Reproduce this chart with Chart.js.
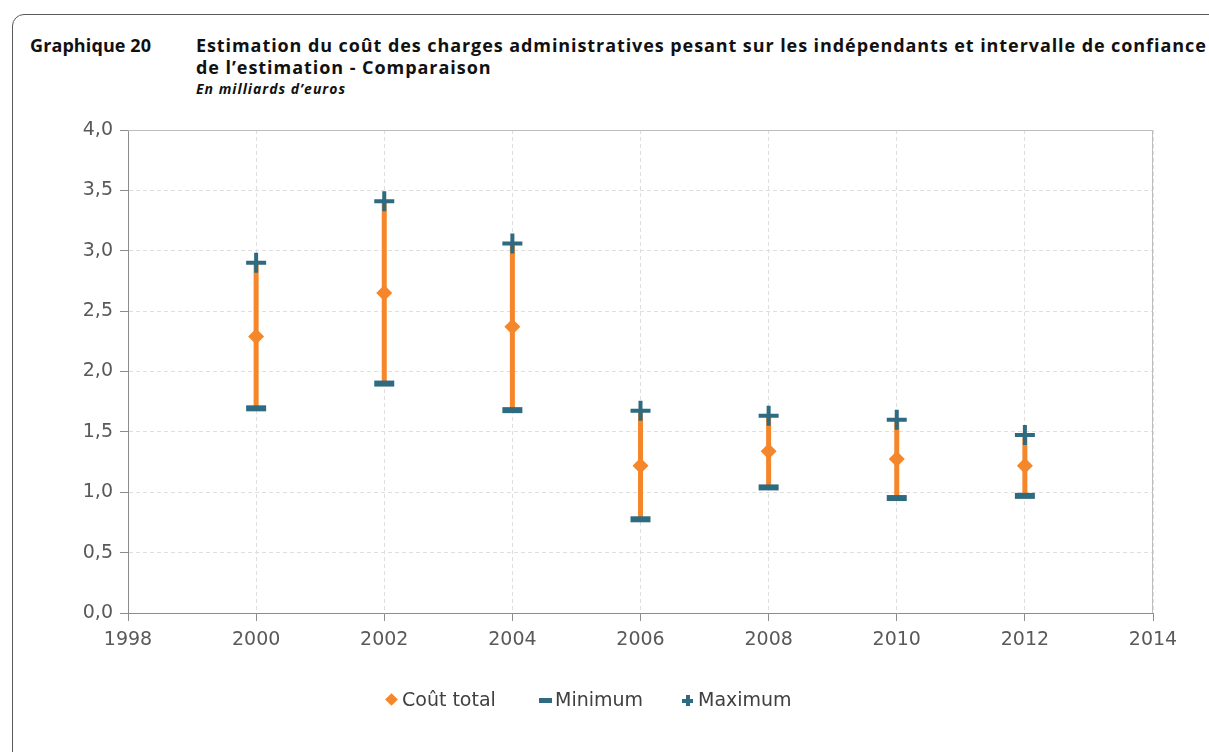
<!DOCTYPE html>
<html>
<head>
<meta charset="utf-8">
<script src="https://cdn.jsdelivr.net/npm/chart.js@4.4.1/dist/chart.umd.min.js"></script>
<style>
  html, body { margin: 0; padding: 0; background: #fff; width: 1209px; height: 752px; overflow: hidden; }
  #frame { position: absolute; left: 12px; top: 14px; width: 1230px; height: 780px;
           border: 1px solid #5a5a5a; border-radius: 12px; }
  .t { position: absolute; font-family: "Open Sans", sans-serif; font-weight: bold; color: #111; white-space: nowrap; }
  #num { left: 30px; top: 33px; font-size: 18px; letter-spacing: 0.1px; }
  #l1 { left: 196px; top: 33px; font-size: 18px; letter-spacing: 0.92px; }
  #l2 { left: 196px; top: 55px; font-size: 18px; letter-spacing: 0.95px; }
  #sub { left: 196px; top: 79px; font-size: 14px; font-style: italic; letter-spacing: 1px; }
  #wrap { position: absolute; left: 0; top: 0; width: 1209px; height: 752px; }
  #legende { position: absolute; top: 688px; left: 0; width: 1209px; height: 24px;
             font-family: "DejaVu Sans", sans-serif; font-size: 19px; color: #404040; }
  #legende span { position: absolute; top: 0; white-space: nowrap; }
  .mk { position: absolute; }
</style>
</head>
<body>
<div id="frame"></div>
<div class="t" id="num">Graphique 20</div>
<div class="t" id="l1">Estimation du coût des charges administratives pesant sur les indépendants et intervalle de confiance</div>
<div class="t" id="l2">de l’estimation - Comparaison</div>
<div class="t" id="sub">En milliards d’euros</div>
<div id="wrap"><canvas id="chart" width="1209" height="752"></canvas></div>
<div id="legende">
  <div class="mk" style="left:387px; top:7px; width:9px; height:9px; background:#f5862a; transform:rotate(45deg);"></div>
  <span style="left:402px;">Coût total</span>
  <div class="mk" style="left:539px; top:10px; width:13px; height:5px; background:#2e6a80;"></div>
  <span style="left:555px;">Minimum</span>
  <div class="mk" style="left:682px; top:10.5px; width:11px; height:4px; background:#2e6a80;"></div>
  <div class="mk" style="left:685.5px; top:7px; width:4px; height:11px; background:#2e6a80;"></div>
  <span style="left:698px;">Maximum</span>
</div>
<script>
const years = [2000, 2002, 2004, 2006, 2008, 2010, 2012];
const coutTotal = [2.29, 2.65, 2.37, 1.22, 1.34, 1.275, 1.22];
const minimum = [1.695, 1.90, 1.68, 0.776, 1.04, 0.952, 0.97];
const maximum = [2.90, 3.41, 3.06, 1.675, 1.634, 1.60, 1.474];

const orange = '#f5862a'; // orange
const bleu = '#2e6a80';   // bleu canard

// intervalle : segments min -> max, coupés par des null
const intervalle = [];
years.forEach((yr, i) => {
    intervalle.push({ x: yr, y: minimum[i] });
    intervalle.push({ x: yr, y: maximum[i] });
    intervalle.push({ x: yr, y: null });
});
const pts = arr => years.map((yr, i) => ({ x: yr, y: arr[i] }));

// cadre gris en haut et à droite de la zone de tracé
const cadre = {
    id: 'cadre',
    beforeDatasetsDraw(chart) {
        const a = chart.chartArea;
        const c = chart.ctx;
        c.save();
        c.strokeStyle = '#bdbdbd';
        c.lineWidth = 1;
        c.beginPath();
        c.moveTo(a.left, a.top + 0.5);
        c.lineTo(a.right - 0.5, a.top + 0.5);
        c.lineTo(a.right - 0.5, a.bottom);
        c.stroke();
        c.restore();
    }
};

const ctx = document.getElementById('chart').getContext('2d');
const chart = new Chart(ctx, {
    type: 'scatter',
    plugins: [cadre],
    data: {
        datasets: [{
            label: 'Coût total',
            data: pts(coutTotal),
            pointStyle: 'rectRot',
            pointRadius: 8,
            pointHoverRadius: 8,
            backgroundColor: orange,
            borderColor: orange,
            pointBorderWidth: 0,
        },
        {
            label: 'Minimum',
            data: pts(minimum),
            pointStyle: 'line',
            pointRadius: 10,
            pointHoverRadius: 10,
            borderColor: bleu,
            backgroundColor: bleu,
            pointBorderWidth: 6,
        },
        {
            label: 'Maximum',
            data: pts(maximum),
            pointStyle: 'cross',
            pointRadius: 10,
            pointHoverRadius: 10,
            borderColor: bleu,
            backgroundColor: bleu,
            pointBorderWidth: 4,
        },
        {
            label: 'intervalle',
            type: 'line',
            data: intervalle,
            borderColor: orange,
            borderWidth: 5,
            pointRadius: 0,
            spanGaps: false,
        }]
    },
    options: {
        responsive: false,
        animation: false,
        devicePixelRatio: 1,
        layout: { padding: { top: 130, left: 0, right: 56, bottom: 91 } },
        scales: {
            x: {
                type: 'linear',
                min: 1998,
                max: 2014,
                afterFit: s => { s.height = 48; },
                ticks: {
                    stepSize: 2,
                    color: '#595959',
                    font: { family: 'DejaVu Sans', size: 19 },
                    callback: v => String(v),
                    padding: 8,
                },
                grid: {
                    color: '#dedede',
                    tickColor: '#8c8c8c',
                    tickLength: 8,
                    tickBorderDash: [],
                },
                border: { color: '#8c8c8c', dash: [4, 3] }
            },
            y: {
                min: 0,
                max: 4,
                afterFit: s => { s.width = 128; },
                ticks: {
                    stepSize: 0.5,
                    color: '#595959',
                    font: { family: 'DejaVu Sans', size: 19 },
                    callback: v => v.toFixed(1).replace('.', ','),
                    padding: 7,
                },
                grid: {
                    color: '#dedede',
                    tickColor: '#8c8c8c',
                    tickLength: 8,
                    tickBorderDash: [],
                },
                border: { color: '#8c8c8c', dash: [4, 3] }
            }
        },
        plugins: {
            legend: { display: false },
            tooltip: { enabled: false }
        }
    }
});
</script>
</body>
</html>
